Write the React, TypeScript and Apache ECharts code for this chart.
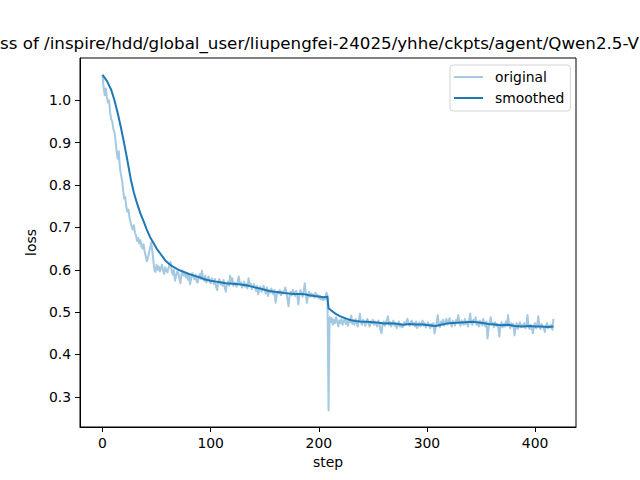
import React, { useEffect, useRef } from "react";
import * as echarts from "echarts";

const titleText = "ss of /inspire/hdd/global_user/liupengfei-24025/yhhe/ckpts/agent/Qwen2.5-VL";
const xTicks = [0, 100, 200, 300, 400];
const yTicks = [0.3, 0.4, 0.5, 0.6, 0.7, 0.8, 0.9, 1.0, 1.1];
const seriesNames = ["original", "smoothed"];

// original loss per step (0..417)
const original = [
  1.060, 1.030, 1.012, 1.028, 1.008, 0.995, 1.000, 0.972, 0.955, 0.950,
  0.932, 0.925, 0.905, 0.880, 0.862, 0.880, 0.842, 0.825, 0.812, 0.790,
  0.768, 0.772, 0.748, 0.737, 0.742, 0.722, 0.712, 0.700, 0.695, 0.705,
  0.688, 0.680, 0.668, 0.675, 0.662, 0.670, 0.655, 0.650, 0.660, 0.642,
  0.632, 0.620, 0.628, 0.640, 0.652, 0.665, 0.645, 0.622, 0.598, 0.595,
  0.612, 0.600, 0.608, 0.596, 0.604, 0.612, 0.598, 0.590, 0.606, 0.598,
  0.594, 0.604, 0.612, 0.618, 0.596, 0.588, 0.600, 0.574, 0.586, 0.596,
  0.592, 0.580, 0.568, 0.590, 0.598, 0.586, 0.594, 0.582, 0.590, 0.576,
  0.586, 0.566, 0.580, 0.592, 0.584, 0.578, 0.588, 0.572, 0.570, 0.584,
  0.590, 0.578, 0.598, 0.580, 0.574, 0.586, 0.570, 0.578, 0.584, 0.572,
  0.568, 0.580, 0.574, 0.566, 0.578, 0.560, 0.552, 0.572, 0.578, 0.566,
  0.570, 0.562, 0.576, 0.558, 0.548, 0.566, 0.572, 0.562, 0.586, 0.570,
  0.580, 0.562, 0.570, 0.566, 0.560, 0.574, 0.584, 0.566, 0.570, 0.558,
  0.564, 0.572, 0.560, 0.566, 0.556, 0.580, 0.562, 0.568, 0.554, 0.560,
  0.566, 0.558, 0.550, 0.562, 0.542, 0.556, 0.560, 0.548, 0.554, 0.562,
  0.550, 0.544, 0.558, 0.538, 0.552, 0.546, 0.556, 0.548, 0.542, 0.552,
  0.522, 0.540, 0.548, 0.544, 0.552, 0.540, 0.548, 0.544, 0.550, 0.558,
  0.546, 0.530, 0.514, 0.538, 0.548, 0.540, 0.552, 0.546, 0.538, 0.550,
  0.542, 0.518, 0.540, 0.552, 0.546, 0.536, 0.550, 0.568, 0.544, 0.522,
  0.540, 0.548, 0.536, 0.544, 0.538, 0.542, 0.534, 0.546, 0.536, 0.540,
  0.532, 0.538, 0.530, 0.536, 0.528, 0.534, 0.530, 0.546, 0.540, 0.268,
  0.488, 0.476, 0.486, 0.470, 0.482, 0.474, 0.488, 0.478, 0.466, 0.480,
  0.474, 0.484, 0.470, 0.478, 0.486, 0.472, 0.480, 0.468, 0.482, 0.476,
  0.492, 0.472, 0.480, 0.470, 0.484, 0.476, 0.466, 0.480, 0.496, 0.474,
  0.470, 0.482, 0.476, 0.468, 0.478, 0.484, 0.472, 0.466, 0.478, 0.474,
  0.482, 0.470, 0.478, 0.472, 0.466, 0.480, 0.474, 0.458, 0.450, 0.472,
  0.478, 0.468, 0.476, 0.482, 0.490, 0.470, 0.476, 0.466, 0.474, 0.480,
  0.468, 0.474, 0.462, 0.470, 0.478, 0.466, 0.472, 0.464, 0.466, 0.476,
  0.470, 0.478, 0.484, 0.472, 0.468, 0.476, 0.480, 0.470, 0.474, 0.466,
  0.478, 0.462, 0.470, 0.476, 0.466, 0.472, 0.480, 0.468, 0.474, 0.464,
  0.470, 0.476, 0.468, 0.462, 0.472, 0.466, 0.474, 0.450, 0.462, 0.476,
  0.493, 0.470, 0.464, 0.478, 0.472, 0.482, 0.468, 0.476, 0.484, 0.470,
  0.478, 0.486, 0.472, 0.466, 0.480, 0.474, 0.468, 0.482, 0.476, 0.493,
  0.474, 0.468, 0.480, 0.476, 0.470, 0.484, 0.472, 0.478, 0.466, 0.480,
  0.497, 0.474, 0.470, 0.482, 0.476, 0.488, 0.470, 0.478, 0.466, 0.480,
  0.474, 0.468, 0.484, 0.472, 0.466, 0.478, 0.438, 0.462, 0.476, 0.488,
  0.470, 0.474, 0.464, 0.476, 0.468, 0.472, 0.462, 0.442, 0.470, 0.476,
  0.464, 0.472, 0.466, 0.478, 0.468, 0.493, 0.470, 0.462, 0.474, 0.466,
  0.472, 0.445, 0.466, 0.474, 0.460, 0.470, 0.476, 0.464, 0.470, 0.466,
  0.474, 0.462, 0.468, 0.493, 0.466, 0.460, 0.470, 0.464, 0.450, 0.468,
  0.474, 0.462, 0.470, 0.490, 0.466, 0.460, 0.472, 0.466, 0.462, 0.453,
  0.468, 0.474, 0.462, 0.468, 0.464, 0.470, 0.458, 0.484,
];

// smoothed curve, read at selected steps
const smoothSteps = [
  0, 4, 8, 11, 14, 17, 20, 23, 26, 29,
  32, 35, 38, 41, 44, 47, 50, 54, 58, 62,
  66, 70, 75, 80, 86, 91, 95, 100, 105, 110,
  114, 120, 126, 131, 135, 140, 145, 150, 154, 159,
  163, 168, 172, 177, 182, 187, 191, 196, 200, 204,
  208, 209, 211, 213, 215, 217, 220, 223, 226, 230,
  234, 238, 244, 250, 256, 260, 264, 270, 278, 284,
  290, 296, 302, 308, 313, 320, 328, 335, 342, 350,
  357, 363, 368, 375, 381, 388, 395, 400, 406, 412,
  417,
];
const smoothValues = [
  1.060, 1.046, 1.025, 1.000, 0.970, 0.936, 0.898, 0.858, 0.815, 0.782,
  0.756, 0.733, 0.714, 0.694, 0.677, 0.664, 0.650, 0.636, 0.622, 0.613,
  0.606, 0.600, 0.595, 0.590, 0.585, 0.581, 0.577, 0.574, 0.572, 0.570,
  0.568, 0.567, 0.566, 0.564, 0.562, 0.559, 0.556, 0.553, 0.550, 0.548,
  0.547, 0.545, 0.544, 0.543, 0.543, 0.542, 0.540, 0.538, 0.537, 0.535,
  0.536, 0.509, 0.505, 0.501, 0.497, 0.494, 0.490, 0.487, 0.484, 0.481,
  0.479, 0.478, 0.477, 0.476, 0.475, 0.473, 0.474, 0.473, 0.470, 0.472,
  0.471, 0.471, 0.469, 0.467, 0.470, 0.474, 0.475, 0.476, 0.477, 0.475,
  0.472, 0.471, 0.469, 0.470, 0.467, 0.466, 0.467, 0.466, 0.466, 0.465,
  0.466,
];

const FONT = "DejaVu Sans";

export default function App() {
  const ref = useRef<HTMLDivElement>(null);
  useEffect(() => {
    if (!ref.current) return;
    const chart = echarts.init(ref.current, undefined, { renderer: "svg" });
    const origData = original.map((v, i) => [i, v]);
    const smoothData = smoothSteps.map((s, i) => [s, smoothValues[i]]);
    const n = original.length - 1;
    const xMin = -0.05 * n;
    const xMax = n * 1.05;
    chart.setOption({
      animation: false,
      backgroundColor: "#ffffff",
      textStyle: { fontFamily: FONT },
      grid: {
        left: 80,
        right: 64,
        top: 58,
        bottom: 53,
        show: true,
        borderColor: "#000",
        borderWidth: 1,
        backgroundColor: "transparent",
        containLabel: false,
      },
      graphic: [
        {
          type: "text",
          x: 0,
          y: 43,
          style: {
            text: titleText,
            font: `16.7px "${FONT}"`,
            fill: "#000",
            textAlign: "left",
            textVerticalAlign: "middle",
          },
        },
      ],
      legend: {
        data: seriesNames,
        orient: "vertical",
        left: 450,
        top: 65,
        icon: "rect",
        itemWidth: 29,
        itemHeight: 2,
        itemGap: 5,
        padding: [4, 6, 5, 4],
        backgroundColor: "#fff",
        borderColor: "#d4d4d4",
        borderWidth: 1,
        borderRadius: 3,
        textStyle: {
          fontFamily: FONT,
          fontSize: 13.9,
          color: "#000",
          lineHeight: 16,
          padding: [0, 0, 0, 7],
        },
      },
      xAxis: {
        type: "value",
        min: xMin,
        max: xMax,
        name: "step",
        nameLocation: "middle",
        nameGap: 27,
        nameTextStyle: { fontFamily: FONT, fontSize: 13.9, color: "#000" },
        axisLine: { show: true, onZero: false, lineStyle: { color: "#000", width: 1 } },
        axisTick: { show: true, length: 5, lineStyle: { color: "#000", width: 1 }, customValues: xTicks },
        axisLabel: {
          show: true,
          margin: 9,
          fontFamily: FONT,
          fontSize: 13.9,
          color: "#000",
          customValues: xTicks,
          formatter: (v: number) => String(Math.round(v)),
        },
        splitLine: { show: false },
      },
      yAxis: {
        type: "value",
        min: 0.2288,
        max: 1.0999,
        name: "loss",
        nameLocation: "middle",
        nameGap: 38,
        nameRotate: 90,
        nameTextStyle: { fontFamily: FONT, fontSize: 13.9, color: "#000" },
        axisLine: { show: true, onZero: false, lineStyle: { color: "#000", width: 1 } },
        axisTick: { show: true, length: 5, lineStyle: { color: "#000", width: 1 }, customValues: yTicks },
        axisLabel: {
          show: true,
          margin: 9,
          fontFamily: FONT,
          fontSize: 13.9,
          color: "#000",
          customValues: yTicks,
          formatter: (v: number) => v.toFixed(1),
        },
        splitLine: { show: false },
      },
      series: [
        {
          name: seriesNames[0],
          type: "line",
          data: origData,
          showSymbol: false,
          symbol: "none",
          color: "#a5c9e1",
          lineStyle: { color: "#a5c9e1", width: 2, join: "round" },
          z: 2,
        },
        {
          name: seriesNames[1],
          type: "line",
          data: smoothData,
          showSymbol: false,
          symbol: "none",
          color: "#1f77b4",
          lineStyle: { color: "#1f77b4", width: 2, join: "round" },
          z: 3,
        },
      ],
    });
    return () => chart.dispose();
  }, []);
  return (
    <div
      ref={ref}
      style={{ position: "fixed", left: 0, top: 0, width: 640, height: 480, background: "#fff" }}
    />
  );
}
